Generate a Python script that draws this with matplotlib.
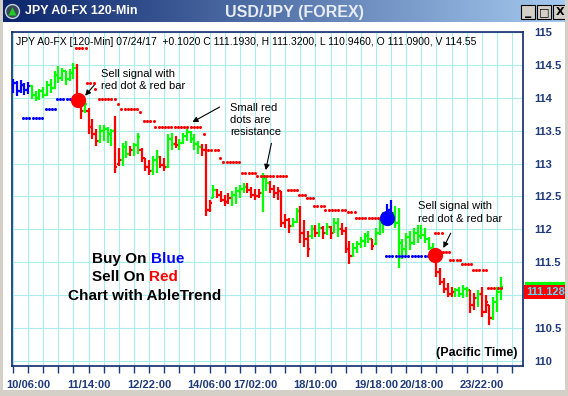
import numpy as np
import matplotlib.pyplot as plt
from matplotlib.patches import Rectangle
from matplotlib.transforms import blended_transform_factory
from matplotlib.colors import LinearSegmentedColormap

plt.rcParams['font.family'] = ['Liberation Sans', 'DejaVu Sans']

# USD/JPY 120-min bars (oldest first)
high = [114.29, 114.26, 114.27, 114.23, 114.24, 114.20, 114.11, 114.14, 114.17, 114.26,
        114.29, 114.41, 114.48, 114.45, 114.41, 114.44, 114.53, 114.52, 114.03, 113.95,
        113.85, 113.68, 113.53, 113.58, 113.59, 113.56, 113.53, 113.73, 113.23, 113.32,
        113.35, 113.27, 113.32, 113.47, 113.24, 113.09, 113.05, 113.12, 113.20, 113.12,
        113.08, 113.45, 113.47, 113.42, 113.38, 113.47, 113.53, 113.50, 113.45, 113.35,
        113.30, 113.30, 112.44, 112.67, 112.62, 112.59, 112.52, 112.56, 112.59, 112.64,
        112.67, 112.70, 112.71, 112.64, 112.62, 112.62, 112.85, 112.82, 112.74, 112.67,
        112.64, 112.59, 112.24, 112.17, 112.18, 112.33, 112.36, 112.14, 111.98, 112.06,
        112.06, 112.09, 112.05, 112.09, 112.05, 112.18, 112.17, 112.09, 112.03, 111.83,
        111.79, 111.83, 111.88, 111.95, 111.98, 111.86, 112.02, 112.18, 112.26, 112.39,
        112.44, 112.35, 112.32, 111.85, 111.95, 111.98, 112.02, 112.06, 112.06, 112.02,
        111.88, 111.80, 111.56, 111.42, 111.26, 111.18, 111.12, 111.11, 111.12, 111.15,
        111.12, 111.08, 111.03, 111.08, 111.12, 111.00, 110.85, 110.97, 111.12, 111.27]
low = [114.08, 114.03, 114.08, 114.05, 114.06, 113.98, 113.95, 113.97, 114.00, 114.03,
       114.08, 114.14, 114.23, 114.26, 114.20, 114.26, 114.29, 113.95, 113.68, 113.77,
       113.45, 113.38, 113.27, 113.32, 113.35, 113.32, 113.27, 112.86, 112.97, 112.97,
       113.09, 113.12, 113.12, 113.15, 113.02, 112.89, 112.82, 112.82, 112.86, 112.94,
       112.89, 112.94, 113.20, 113.24, 113.20, 113.30, 113.35, 113.32, 113.20, 113.15,
       113.12, 112.21, 112.26, 112.47, 112.47, 112.41, 112.36, 112.39, 112.36, 112.39,
       112.47, 112.55, 112.55, 112.48, 112.44, 112.48, 112.26, 112.59, 112.55, 112.48,
       112.44, 112.03, 112.02, 111.94, 112.03, 112.09, 111.80, 111.73, 111.58, 111.86,
       111.88, 111.88, 111.86, 111.91, 111.86, 111.95, 111.88, 111.91, 111.64, 111.48,
       111.58, 111.64, 111.71, 111.73, 111.80, 111.68, 111.76, 111.91, 111.95, 112.06,
       112.11, 112.02, 111.42, 111.55, 111.61, 111.68, 111.76, 111.80, 111.86, 111.79,
       111.68, 111.58, 111.27, 111.15, 111.03, 110.97, 110.97, 110.97, 110.97, 110.95,
       110.97, 110.73, 110.77, 110.82, 110.67, 110.73, 110.55, 110.62, 110.74, 110.92]
open_ = [114.12, 114.22, 114.10, 114.20, 114.12, 114.18, 114.05, 113.99, 114.10, 114.05,
         114.20, 114.15, 114.35, 114.30, 114.40, 114.28, 114.38, 114.45, 114.00, 113.80,
         113.80, 113.55, 113.45, 113.35, 113.50, 113.52, 113.45, 113.50, 112.99, 113.05,
         113.25, 113.15, 113.20, 113.28, 113.20, 113.08, 112.95, 112.88, 113.05, 113.10,
         112.98, 112.95, 113.38, 113.30, 113.28, 113.32, 113.42, 113.48, 113.38, 113.30,
         113.25, 113.20, 112.30, 112.48, 112.60, 112.52, 112.45, 112.42, 112.48, 112.52,
         112.58, 112.62, 112.65, 112.60, 112.52, 112.50, 112.55, 112.78, 112.70, 112.62,
         112.55, 112.58, 112.10, 112.15, 112.05, 112.12, 112.28, 111.95, 111.85, 111.90,
         112.00, 111.95, 112.02, 111.95, 112.04, 111.95, 112.10, 112.00, 111.98, 111.70,
         111.60, 111.72, 111.78, 111.82, 111.90, 111.85, 111.78, 111.95, 112.10, 112.20,
         112.30, 112.25, 112.10, 111.80, 111.70, 111.88, 111.80, 111.95, 111.90, 111.92,
         111.85, 111.72, 111.56, 111.35, 111.20, 111.10, 111.02, 111.05, 111.08, 111.02,
         111.10, 111.08, 110.85, 110.95, 111.02, 110.75, 110.85, 110.65, 110.90, 111.05]
close = [114.22, 114.10, 114.20, 114.12, 114.18, 114.05, 113.99, 114.10, 114.05, 114.20,
         114.15, 114.35, 114.30, 114.40, 114.28, 114.38, 114.45, 114.00, 113.80, 113.90,
         113.55, 113.45, 113.35, 113.50, 113.52, 113.45, 113.50, 112.95, 113.05, 113.25,
         113.15, 113.20, 113.28, 113.40, 113.08, 112.95, 112.88, 113.05, 113.10, 112.98,
         112.95, 113.38, 113.30, 113.28, 113.32, 113.42, 113.48, 113.38, 113.30, 113.25,
         113.20, 112.30, 112.40, 112.60, 112.52, 112.45, 112.42, 112.48, 112.52, 112.58,
         112.62, 112.65, 112.60, 112.52, 112.50, 112.55, 112.78, 112.70, 112.62, 112.55,
         112.58, 112.10, 112.15, 112.05, 112.12, 112.28, 111.95, 111.85, 111.70, 112.00,
         111.95, 112.02, 111.95, 112.04, 111.95, 112.10, 112.00, 111.98, 111.70, 111.60,
         111.72, 111.78, 111.82, 111.90, 111.85, 111.75, 111.95, 112.10, 112.20, 112.30,
         112.25, 112.10, 111.80, 111.70, 111.88, 111.80, 111.95, 111.90, 111.92, 111.85,
         111.72, 111.62, 111.35, 111.20, 111.10, 111.02, 111.05, 111.08, 111.02, 111.10,
         111.08, 110.85, 110.95, 111.02, 110.75, 110.90, 110.65, 110.90, 111.05, 111.128]
# AbleTrend bar colour: b = buy, g = neutral/up, r = sell
bar_color = list("bbbbbggggg" "gggggggrrg" "rrrggggrrg" "grggrrrggr" "rggrgggggg"
                 "rrrgrrrrgg" "ggrrrrggrr" "rrrrggrrrg" "rgrgrggrrr" "gggggrgggb"
                 "bggggggggg" "ggrrrrrggg" "grrgrrrggg")

tick_pos = [4, 20, 36, 52, 64, 80, 96, 108, 124]
tick_labels = ['10/06:00', '11/14:00', '12/22:00', '14/06:00', '17/02:00',
               '18/10:00', '19/18:00', '20/18:00', '23/22:00']

# stop dots: (first bar, last bar, level)
blue_stops = [(3, 8, 113.70), (9, 11, 113.83), (12, 16, 113.98), (99, 110, 111.59)]
red_stops = [(17, 19, 114.76), (20, 21, 114.23), (22, 22, 114.14), (23, 27, 113.98),
             (28, 28, 113.91), (29, 33, 113.83), (34, 34, 113.79), (35, 37, 113.64),
             (38, 50, 113.56), (51, 51, 113.45), (52, 54, 113.20), (55, 55, 113.08),
             (56, 60, 113.02), (61, 64, 112.85), (65, 72, 112.81), (73, 75, 112.60),
             (76, 77, 112.52), (78, 79, 112.47), (80, 82, 112.36), (83, 88, 112.29),
             (89, 90, 112.26), (91, 98, 112.17), (112, 113, 111.95), (114, 115, 111.65),
             (116, 118, 111.53), (119, 121, 111.47), (122, 125, 111.38), (126, 129, 111.11)]

# big signal dots: (bar, price, colour)
signals = [(17.2, 113.96, 'red'), (98.9, 112.17, 'blue'), (111.6, 111.61, 'red')]

cmap = {'b': '#0000FF', 'g': '#00FF00', 'r': '#FF0000'}
navy = '#1E3A78'

fig = plt.figure(figsize=(5.68, 3.96), dpi=100)
fig.patch.set_facecolor('white')

ax = fig.add_axes([12 / 568, 30 / 396, 511 / 568, 334 / 396])
ax.set_xlim(-0.26, 134.9)
ax.set_ylim(109.924, 114.985)

x = np.arange(len(close))
cols = [cmap[c] for c in bar_color]
ax.vlines(x, low, high, colors=cols, lw=1.6, zorder=3)
ax.hlines(open_, x - 0.6, x, colors=cols, lw=1.6, zorder=3)
ax.hlines(close, x, x + 0.6, colors=cols, lw=1.6, zorder=3)

for stops, c in [(blue_stops, '#0000FF'), (red_stops, '#FF0000')]:
    for a, b, lvl in stops:
        xs = np.arange(a - 0.35, b + 0.36, 0.85)
        ax.plot(xs, np.full(len(xs), lvl), 'o', ms=2.2, color=c, mec='none', zorder=4)

for sx, sy, c in signals:
    ax.plot(sx, sy, 'o', ms=11, color=c, mec='none', zorder=5)

# grid / axes
ax.set_xticks(np.arange(0, 135, 4), minor=True)
ax.set_xticks(tick_pos)
ax.set_xticklabels(tick_labels)
ax.set_yticks(np.arange(110, 115.01, 0.5))
ax.set_yticklabels(['110', '110.5', '111', '111.5', '112', '112.5', '113', '113.5',
                    '114', '114.5', '115'])
ax.yaxis.tick_right()
ax.grid(True, which='both', color='#A8EEEE', lw=0.8, zorder=0)
ax.tick_params(axis='x', which='both', length=5, width=1, color=navy, direction='out',
               labelsize=8, labelcolor=navy, pad=5)
ax.tick_params(axis='y', length=0, labelsize=8, labelcolor=navy, pad=8)
for lab in ax.get_xticklabels() + ax.get_yticklabels():
    lab.set_fontweight('bold')
for sp in ax.spines.values():
    sp.set_color('#102A6E')
    sp.set_linewidth(1.2)

ax.text(0.008, 0.97, "JPY A0-FX [120-Min] 07/24/17  +0.1020 C 111.1930, H 111.3200, "
        "L 110.9460, O 111.0900, V 114.55", transform=ax.transAxes, fontsize=7.5,
        va='center', ha='left', clip_on=True)
ax.text(0.99, 0.02, "(Pacific Time)", transform=ax.transAxes, fontsize=9,
        fontweight='bold', ha='right', va='bottom')

# annotations
arrow = dict(arrowstyle='-|>', color='black', lw=0.8, mutation_scale=8)
ax.text(23.3, 114.27, "Sell signal with\nred dot & red bar", fontsize=8,
        va='center', ha='left', linespacing=1.35)
ax.annotate('', xy=(18.6, 114.0), xytext=(22.2, 114.24), arrowprops=arrow)
ax.text(57.4, 113.67, "Small red\ndots are\nresistance", fontsize=8,
        va='center', ha='left', linespacing=1.25)
ax.annotate('', xy=(46.8, 113.61), xytext=(55.3, 113.88), arrowprops=arrow)
ax.annotate('', xy=(66.7, 112.86), xytext=(68.5, 113.35), arrowprops=arrow)
ax.text(107.1, 112.26, "Sell signal with\nred dot & red bar", fontsize=8,
        va='center', ha='left', linespacing=1.35)
ax.annotate('', xy=(113.5, 111.68), xytext=(116.1, 111.98), arrowprops=arrow)

t1 = ax.text(21, 111.55, "Buy On", fontsize=11, fontweight='bold', ha='left', va='center')
ax.annotate("Blue", xy=(1, 0), xycoords=t1, xytext=(3, 0), textcoords='offset points',
            fontsize=11, fontweight='bold', color='#0000FF', ha='left', va='bottom')
t2 = ax.text(21, 111.27, "Sell On", fontsize=11, fontweight='bold', ha='left', va='center')
ax.annotate("Red", xy=(1, 0), xycoords=t2, xytext=(3, 0), textcoords='offset points',
            fontsize=11, fontweight='bold', color='#FF0000', ha='left', va='bottom')
ax.text(34.9, 110.99, "Chart with AbleTrend", fontsize=11, fontweight='bold',
        ha='center', va='center')

# last price tag (covers the 111 label, as in the original)
blend = blended_transform_factory(ax.transAxes, ax.transData)
ax.plot([1.004, 1.2], [close[-1] + 0.035] * 2, transform=blend, color='#00FF00', lw=3,
        solid_capstyle='butt', clip_on=False, zorder=6)
ax.text(1.006, close[-1], f"{close[-1]:.3f}", transform=blend, fontsize=8,
        fontweight='bold', color='#55E0FF', ha='left', va='top', clip_on=False,
        zorder=7, bbox=dict(boxstyle='square,pad=0.2', fc='#FF0000', ec='none'))

# window title bar
tb = fig.add_axes([0, 1 - 22 / 396, 1, 22 / 396])
tb.set_xlim(0, 568)
tb.set_ylim(22, 0)
tb.axis('off')
grad = np.linspace(0, 1, 256)[None, :]
gcm = LinearSegmentedColormap.from_list('tb', ['#0A246A', '#A6CAF0'])
tb.imshow(grad, cmap=gcm, aspect='auto', extent=[0, 568, 22, 0])
tb.plot(12, 11, 'o', ms=10, color='#3a4a5a', mec='#c8d0d8', mew=1)
tb.plot(12, 11, '^', ms=6, color='#22CC22', mec='none')
tb.text(25, 11.5, "JPY A0-FX 120-Min", color='white', fontsize=9, fontweight='bold',
        va='center', ha='left')
tb.text(294, 12, "USD/JPY (FOREX)", color='#E8ECF4', fontsize=11.5, fontweight='bold',
        va='center', ha='center')
for bx, glyph in [(521, '_'), (537, '\u25a1'), (553, 'X')]:
    tb.add_patch(Rectangle((bx, 5), 14, 14, fc='#D4D0C8', ec='black', lw=0.8))
    tb.text(bx + 7, 12, glyph, fontsize=8 if glyph != '_' else 9, fontweight='bold',
            ha='center', va='center', color='black', family='DejaVu Sans')

# window frame
fig.patches.append(Rectangle((0, 0), 1, 6 / 396, transform=fig.transFigure,
                             fc='#D4D0C8', ec='none'))
fig.patches.append(Rectangle((0, 0), 3 / 568, 1, transform=fig.transFigure,
                             fc='#D4D0C8', ec='none'))
fig.patches.append(Rectangle((565 / 568, 0), 3 / 568, 1, transform=fig.transFigure,
                             fc='#D4D0C8', ec='none'))

fig.savefig('out.png', dpi=100)
